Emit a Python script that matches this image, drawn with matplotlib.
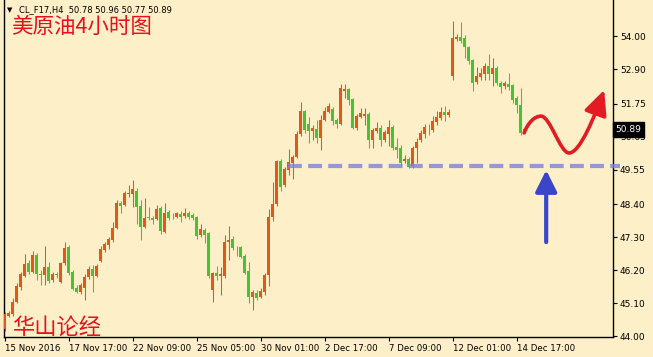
import matplotlib
matplotlib.use('Agg')
import matplotlib.pyplot as plt
import numpy as np
from matplotlib.path import Path
from matplotlib.patches import FancyArrowPatch

# CL_F17 H4 candles, 15 Nov - 15 Dec 2016
opens = [44.23, 44.67, 44.73, 45.13, 45.63, 46.00, 46.43, 46.13, 46.70, 46.05,
         46.03, 46.30, 45.87, 46.07, 45.80, 46.43, 46.97, 46.13, 45.60, 45.47,
         45.60, 45.97, 46.23, 46.00, 46.50, 46.87, 47.03, 47.20, 47.60, 48.43,
         48.37, 48.73, 48.73, 48.83, 48.33, 47.63, 47.97, 47.93, 47.90, 48.27,
         47.47, 48.13, 48.01, 47.97, 48.07, 48.00, 48.10, 48.03, 47.97, 47.37,
         47.53, 47.43, 45.53, 46.10, 46.00, 46.00, 47.13, 47.23, 46.94, 46.97,
         46.67, 46.17, 45.30, 45.43, 45.30, 45.47, 46.03, 47.97, 48.40, 49.83,
         49.03, 49.53, 49.77, 49.97, 50.73, 51.50, 51.07, 50.83, 50.90, 50.60,
         51.20, 51.47, 51.57, 51.20, 51.07, 52.17, 52.23, 51.90, 50.93, 51.30,
         51.33, 51.40, 50.53, 50.83, 50.93, 50.53, 50.73, 50.97, 50.30, 50.27,
         49.83, 49.90, 49.67, 50.27, 50.53, 50.73, 50.94, 50.87, 51.13, 51.27,
         51.47, 51.37, 52.67, 53.90, 53.97, 53.93, 53.63, 53.20, 52.47, 52.63,
         52.73, 53.00, 52.73, 52.93, 52.43, 52.33, 52.40, 52.37, 51.93, 51.70,
         50.78]
highs = [44.80, 44.83, 45.27, 45.77, 46.13, 46.73, 46.53, 46.83, 46.77, 46.20,
         47.00, 46.47, 46.13, 46.13, 46.47, 47.13, 47.03, 46.20, 45.70, 45.77,
         46.07, 46.33, 46.37, 46.40, 47.00, 47.13, 47.30, 47.80, 48.53, 48.50,
         48.83, 49.03, 49.20, 48.93, 48.53, 48.60, 48.30, 48.00, 48.37, 48.33,
         48.43, 48.20, 48.10, 48.13, 48.17, 48.27, 48.17, 48.10, 48.00, 47.73,
         47.60, 47.47, 46.13, 46.33, 46.30, 47.37, 47.67, 47.33, 47.00, 47.00,
         46.73, 46.47, 45.53, 45.53, 45.60, 46.10, 48.23, 49.13, 49.87, 49.90,
         49.63, 50.23, 50.03, 50.83, 51.80, 51.53, 51.30, 51.03, 51.20, 51.37,
         51.63, 51.77, 51.63, 51.27, 52.40, 52.40, 52.27, 51.93, 51.40, 51.60,
         51.60, 51.47, 50.93, 51.13, 51.03, 50.87, 51.20, 51.03, 50.60, 50.37,
         50.03, 49.97, 50.33, 50.60, 50.87, 51.07, 51.07, 51.33, 51.50, 51.63,
         51.67, 51.57, 54.50, 54.07, 54.47, 54.03, 53.67, 53.23, 52.97, 52.93,
         53.10, 53.40, 53.27, 53.00, 52.50, 52.50, 52.77, 52.40, 52.00, 52.27,
         50.96]
lows = [44.17, 44.63, 44.67, 45.10, 45.53, 45.97, 46.07, 46.10, 45.87, 45.70,
        45.70, 45.77, 45.80, 45.93, 45.77, 46.37, 46.03, 45.53, 45.43, 45.40,
        45.20, 45.90, 45.47, 45.97, 46.47, 46.80, 46.90, 47.13, 47.57, 48.10,
        48.33, 48.63, 48.30, 47.73, 47.20, 47.60, 47.87, 47.73, 47.87, 47.40,
        47.43, 47.87, 47.90, 47.93, 47.80, 47.93, 47.90, 47.87, 47.23, 47.30,
        47.10, 45.93, 45.13, 45.87, 45.37, 45.93, 46.53, 46.87, 46.67, 46.60,
        46.07, 45.10, 44.87, 45.20, 45.27, 45.37, 45.67, 47.83, 48.33, 48.83,
        48.97, 49.37, 49.23, 49.93, 50.67, 50.77, 50.43, 50.53, 50.43, 50.20,
        51.17, 51.43, 51.03, 50.93, 51.03, 51.93, 51.70, 50.90, 50.87, 51.27,
        51.03, 50.27, 50.27, 50.77, 50.33, 50.47, 50.33, 50.20, 49.93, 49.70,
        49.77, 49.60, 49.60, 49.77, 50.47, 50.60, 50.70, 50.80, 51.03, 51.20,
        51.17, 51.30, 52.53, 53.83, 53.77, 53.27, 53.07, 52.17, 52.40, 52.53,
        52.53, 52.53, 52.33, 52.37, 52.10, 52.23, 52.20, 51.77, 51.43, 50.70,
        50.77]
closes = [44.73, 44.77, 45.13, 45.67, 46.07, 46.40, 46.13, 46.70, 46.07, 46.03,
          46.30, 45.83, 46.07, 46.03, 46.43, 46.93, 46.10, 45.57, 45.47, 45.70,
          45.97, 46.23, 46.00, 46.33, 46.90, 47.07, 47.23, 47.60, 48.43, 48.33,
          48.77, 48.77, 48.90, 48.30, 47.63, 47.93, 47.95, 47.87, 48.23, 47.50,
          48.10, 47.93, 47.99, 48.10, 47.97, 48.10, 47.97, 47.93, 47.33, 47.57,
          47.37, 46.00, 46.10, 46.00, 46.07, 47.13, 47.20, 46.93, 46.92, 46.63,
          46.10, 45.30, 45.47, 45.27, 45.50, 46.03, 47.97, 48.40, 49.83, 48.97,
          49.57, 49.80, 49.97, 50.73, 51.50, 50.87, 50.83, 50.93, 50.60, 51.20,
          51.50, 51.67, 51.17, 51.07, 52.27, 52.23, 51.87, 50.93, 51.33, 51.43,
          51.40, 50.53, 50.87, 50.93, 50.53, 50.80, 50.97, 50.27, 50.20, 49.77,
          49.90, 49.63, 50.27, 50.47, 50.77, 50.97, 50.92, 51.17, 51.30, 51.47,
          51.37, 51.47, 53.93, 53.97, 53.83, 53.63, 53.17, 52.43, 52.67, 52.77,
          53.00, 52.73, 52.93, 52.43, 52.30, 52.43, 52.30, 51.87, 51.70, 50.77,
          50.89]

tick_pos = [0, 16, 32, 48, 64, 80, 96, 112, 128]
tick_labels = ['15 Nov 2016', '17 Nov 17:00', '22 Nov 09:00', '25 Nov 05:00',
               '30 Nov 01:00', '2 Dec 17:00', '7 Dec 09:00', '12 Dec 01:00',
               '14 Dec 17:00']
price_ticks = [54.00, 52.90, 51.75, 50.65, 49.55, 48.40, 47.30, 46.20, 45.10, 44.00]

support = 49.67
last_price = 50.89

bg = '#FDEFC8'
up_col = '#DD5A1E'
dn_col = '#4DBE3A'
plt.rcParams['lines.scale_dashes'] = False
plt.rcParams['font.family'] = ['DejaVu Sans']

fig = plt.figure(figsize=(6.53, 3.57), dpi=100, facecolor=bg)
ax = fig.add_axes([3.5/653, 20/357, (613-3.5)/653, 337/357])
ax.set_facecolor(bg)

o = np.array(opens); h = np.array(highs); l = np.array(lows); c = np.array(closes)
x = np.arange(len(o))
cols = [up_col if cc >= oo else dn_col for oo, cc in zip(o, c)]
ax.vlines(x, l, h, colors=cols, lw=0.75, zorder=2)
body = np.maximum(np.abs(c - o), 0.025)
ax.bar(x, body, bottom=np.minimum(o, c), width=0.72, color=cols, lw=0, zorder=3)

ax.set_xlim(-0.25, 152.1)
ax.set_ylim(55.2 - 337/30, 55.2)

# support line
ax.plot([70.9, 153.9], [support, support], color='#7B83D6', lw=3, alpha=0.8,
        dashes=[10, 4.5], dash_capstyle='butt', clip_on=False, zorder=4)

# blue arrow up to support
ax.annotate('', xy=(135.4, 49.53), xytext=(135.4, 47.13),
            arrowprops=dict(arrowstyle='-|>,head_length=1.3,head_width=0.65',
                            color='#3A45C8', lw=3, shrinkA=0, shrinkB=0),
            zorder=5)

# red wave arrow
verts = [(129.9, 50.77), (130.9, 51.13), (132.6, 51.33), (134.1, 51.33),
         (136.4, 51.33), (138.9, 50.10), (141.1, 50.10),
         (143.9, 50.10), (147.6, 51.37), (149.9, 52.20)]
codes = [Path.MOVETO] + [Path.CURVE4] * 9
arr = FancyArrowPatch(path=Path(verts, codes),
                      arrowstyle='-|>,head_length=1.5,head_width=0.7',
                      mutation_scale=10, color='#E31B23', lw=2.6,
                      transform=ax.transData, zorder=6)
ax.add_patch(arr)

# axes styling
for s in ['left', 'right', 'bottom']:
    ax.spines[s].set_color('black')
    ax.spines[s].set_linewidth(1)
ax.spines['top'].set_visible(False)
ax.yaxis.tick_right()
ax.set_yticks(price_ticks, ['%.2f' % v for v in price_ticks])
ax.set_xticks(tick_pos, tick_labels)
for lbl in ax.get_xticklabels():
    lbl.set_ha('left')
ax.tick_params(axis='x', direction='out', length=3, pad=2, labelsize=6.2, width=0.8)
ax.tick_params(axis='y', direction='out', length=3, pad=2, labelsize=6.5, width=0.8)

# last price box
ax.text(1.004, last_price, '%.2f' % last_price, transform=ax.get_yaxis_transform(),
        ha='left', va='center', color='white', size=6.5,
        bbox=dict(boxstyle='square,pad=0.3', fc='black', ec='black'), clip_on=False)

# header and titles
fig.text(7/653, 1 - 10/357, '▼', size=5, va='center', ha='left')
fig.text(19/653, 1 - 10/357, 'CL_F17,H4  50.78 50.96 50.77 50.89', size=6,
         va='center', ha='left')
fig.text(11/653, 1 - 27/357, '美原油4小时图', family=['Noto Sans CJK SC', 'DejaVu Sans'],
         size=15.5, color='#E8101C', va='center', ha='left')
fig.text(12/653, 1 - 327/357, '华山论经', family=['Noto Sans CJK SC', 'DejaVu Sans'],
         size=16, color='#E8101C', va='center', ha='left')

fig.savefig('out.png', dpi=100, facecolor=bg)
